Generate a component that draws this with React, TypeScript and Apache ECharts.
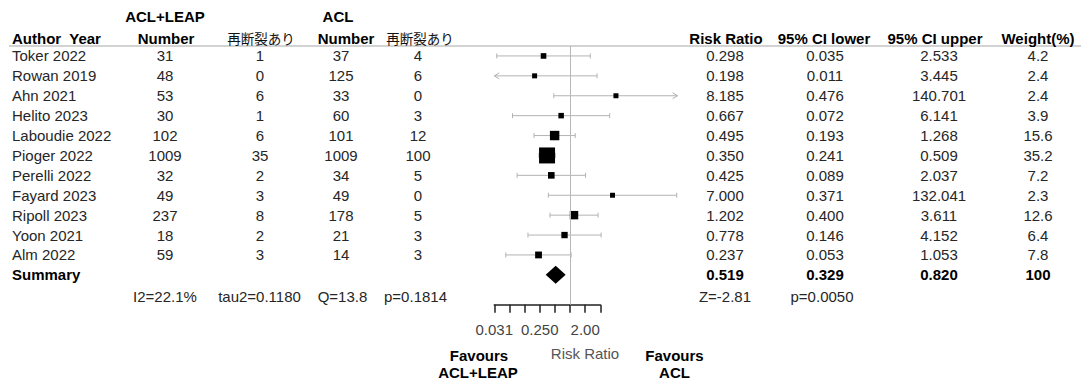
import React, { useEffect, useRef } from "react";
import * as echarts from "echarts";

// ---------- data ----------
const studies = ["Toker 2022", "Rowan 2019", "Ahn 2021", "Helito 2023", "Laboudie 2022", "Pioger 2022", "Perelli 2022", "Fayard 2023", "Ripoll 2023", "Yoon 2021", "Alm 2022"];
const leapN = [31, 48, 53, 30, 102, 1009, 32, 49, 237, 18, 59];
const leapEvents = [1, 0, 6, 1, 6, 35, 2, 3, 8, 2, 3];
const aclN = [37, 125, 33, 60, 101, 1009, 34, 49, 178, 21, 14];
const aclEvents = [4, 6, 0, 3, 12, 100, 5, 0, 5, 3, 3];
const riskRatio = [0.298, 0.198, 8.185, 0.667, 0.495, 0.35, 0.425, 7.0, 1.202, 0.778, 0.237];
const ciLower = [0.035, 0.011, 0.476, 0.072, 0.193, 0.241, 0.089, 0.371, 0.4, 0.146, 0.053];
const ciUpper = [2.533, 3.445, 140.701, 6.141, 1.268, 0.509, 2.037, 132.041, 3.611, 4.152, 1.053];
const weights = [4.2, 2.4, 2.4, 3.9, 15.6, 35.2, 7.2, 2.3, 12.6, 6.4, 7.8];
const summaryLabel = "Summary";
const summaryValues = [0.519, 0.329, 0.82];
const summaryWeight = "100";
const heterogeneity = ["I2=22.1%", "tau2=0.1180", "Q=13.8", "p=0.1814"];
const overallTest = ["Z=-2.81", "p=0.0050"];
const tickLabels: Record<string, string> = { "-5": "0.031", "-2": "0.250", "1": "2.00" };
const leftHeaderTop = ["ACL+LEAP", "ACL"];
const leftHeaders = ["Author  Year", "Number", "再断裂あり", "Number", "再断裂あり"];
const rightHeaders = ["Risk Ratio", "95% CI lower", "95% CI upper", "Weight(%)"];
const axisTitle = "Risk Ratio";
const favoursLeft = ["Favours", "ACL+LEAP"];
const favoursRight = ["Favours", "ACL"];

// ---------- layout ----------
const FONT = "'Liberation Sans', Arial, 'Noto Sans CJK JP', sans-serif";
const CJK = "'Noto Sans CJK JP', 'Liberation Sans', sans-serif";
const PX_PER_LOG = 15.15;
const PLOT_LEFT = 494.25;
const DMIN = -5;
const DMAX = 7.1;
const AXIS_MAX = 2;
const GRID_TOP = 46;
const ROW_H = 19.9;
const ROW_MIN = -0.5;
const ROW_MAX = 12.5;
const rowY = (i: number) => GRID_TOP + (i - ROW_MIN) * ROW_H;
const leftCols = [165, 260, 341, 418];
const rightCols = [725, 825, 939, 1038];
const TEXT = "#262626";

function txt(text: string, x: number, y: number, opts: any = {}) {
  const align = opts.align || "center";
  return {
    type: "text",
    x,
    y,
    silent: true,
    style: {
      text,
      fill: opts.color || TEXT,
      font: `${opts.bold ? "bold " : ""}${opts.size || 15}px ${opts.family || FONT}`,
      textAlign: align,
      align,
      textVerticalAlign: "middle",
      verticalAlign: "middle",
    },
  };
}

export default function App() {
  const ref = useRef<HTMLDivElement>(null);

  useEffect(() => {
    if (!ref.current) return;
    const chart = echarts.init(ref.current, undefined, { renderer: "svg" });

    const forestData = studies.map((_, i) => [
      Math.log2(riskRatio[i]),
      Math.log2(ciLower[i]),
      Math.log2(ciUpper[i]),
      i,
      weights[i],
    ]);
    const summaryData = [[
      Math.log2(summaryValues[0]),
      Math.log2(summaryValues[1]),
      Math.log2(summaryValues[2]),
      studies.length,
    ]];

    const graphics: any[] = [];
    // header rule
    graphics.push({
      type: "line",
      silent: true,
      shape: { x1: 9, y1: GRID_TOP, x2: 1081, y2: GRID_TOP },
      style: { stroke: "#c4c4c4", lineWidth: 1.5 },
    });
    // left header
    graphics.push(txt(leftHeaderTop[0], 165, 16, { bold: true, color: "#000" }));
    graphics.push(txt(leftHeaderTop[1], 338, 16, { bold: true, color: "#000" }));
    graphics.push(txt(leftHeaders[0], 12, 38, { bold: true, color: "#000", align: "left" }));
    graphics.push(txt(leftHeaders[1], 166, 38, { bold: true, color: "#000" }));
    graphics.push(txt(leftHeaders[2], 261, 38, { size: 13.5, family: CJK, color: "#111" }));
    graphics.push(txt(leftHeaders[3], 346, 38, { bold: true, color: "#000" }));
    graphics.push(txt(leftHeaders[4], 420, 38, { size: 13.5, family: CJK, color: "#111" }));
    rightHeaders.forEach((h, k) => {
      const cx = [726, 824, 935, 1038][k];
      graphics.push(txt(h, cx, 38, { bold: true, color: "#000" }));
    });
    // rows
    studies.forEach((s, i) => {
      const y = rowY(i);
      graphics.push(txt(s, 12, y, { align: "left" }));
      graphics.push(txt(String(leapN[i]), leftCols[0], y));
      graphics.push(txt(String(leapEvents[i]), leftCols[1], y));
      graphics.push(txt(String(aclN[i]), leftCols[2], y));
      graphics.push(txt(String(aclEvents[i]), leftCols[3], y));
      graphics.push(txt(riskRatio[i].toFixed(3), rightCols[0], y));
      graphics.push(txt(ciLower[i].toFixed(3), rightCols[1], y));
      graphics.push(txt(ciUpper[i].toFixed(3), rightCols[2], y));
      graphics.push(txt(weights[i].toFixed(1), rightCols[3], y));
    });
    // summary row
    const ys = rowY(studies.length);
    graphics.push(txt(summaryLabel, 12, ys, { bold: true, color: "#000", align: "left" }));
    summaryValues.forEach((v, k) => {
      graphics.push(txt(v.toFixed(3), rightCols[k], ys, { bold: true, color: "#000" }));
    });
    graphics.push(txt(summaryWeight, rightCols[3], ys, { bold: true, color: "#000" }));
    // heterogeneity row
    const yh = rowY(studies.length + 1) + 2;
    heterogeneity.forEach((h, k) => {
      graphics.push(txt(h, [165, 259.5, 342.5, 415.5][k], yh));
    });
    graphics.push(txt(overallTest[0], 725, yh));
    graphics.push(txt(overallTest[1], 822, yh));
    // bottom captions
    graphics.push(txt(axisTitle, 585, 353, { color: "#555" }));
    graphics.push(txt(favoursLeft[0], 479, 355, { bold: true, color: "#000" }));
    graphics.push(txt(favoursLeft[1], 478, 372, { bold: true, color: "#000" }));
    graphics.push(txt(favoursRight[0], 674.5, 355, { bold: true, color: "#000" }));
    graphics.push(txt(favoursRight[1], 674.5, 372, { bold: true, color: "#000" }));

    const gridHeight = (ROW_MAX - ROW_MIN) * ROW_H;

    const option: any = {
      animation: false,
      backgroundColor: "#ffffff",
      grid: [
        { left: PLOT_LEFT, top: GRID_TOP, width: (DMAX - DMIN) * PX_PER_LOG, height: gridHeight, containLabel: false },
        { left: PLOT_LEFT, top: GRID_TOP, width: (AXIS_MAX - DMIN) * PX_PER_LOG, height: gridHeight, containLabel: false },
      ],
      xAxis: [
        { gridIndex: 0, type: "value", min: DMIN, max: DMAX, show: false },
        {
          gridIndex: 1,
          type: "value",
          min: DMIN,
          max: AXIS_MAX,
          interval: 1,
          position: "bottom",
          axisLine: { show: true, onZero: false, lineStyle: { color: "#222", width: 1.5 } },
          axisTick: { show: true, length: 8, lineStyle: { color: "#222", width: 1.5 } },
          splitLine: { show: false },
          axisLabel: {
            margin: 17,
            color: "#444",
            fontSize: 15,
            fontFamily: FONT,
            formatter: (v: number) => tickLabels[String(Math.round(v))] || "",
          },
        },
      ],
      yAxis: [
        { gridIndex: 0, type: "value", min: ROW_MIN, max: ROW_MAX, inverse: true, show: false },
        { gridIndex: 1, type: "value", min: ROW_MIN, max: ROW_MAX, inverse: true, show: false },
      ],
      series: [
        {
          type: "custom",
          xAxisIndex: 0,
          yAxisIndex: 0,
          encode: { x: [0, 1, 2], y: 3 },
          data: forestData,
          silent: true,
          renderItem: (params: any, api: any) => {
            const c = api.value(0);
            const lo = api.value(1);
            const hi = api.value(2);
            const row = api.value(3);
            const w = api.value(4);
            const loC = Math.max(lo, DMIN);
            const hiC = Math.min(hi, DMAX);
            const pL = api.coord([loC, row]);
            const pR = api.coord([hiC, row]);
            const pC = api.coord([c, row]);
            const y = pC[1];
            const stroke = { stroke: "#b3b3b3", lineWidth: 1 };
            const children: any[] = [
              { type: "line", shape: { x1: pL[0], y1: y, x2: pR[0], y2: y }, style: stroke },
            ];
            if (lo < DMIN) {
              children.push({ type: "polyline", shape: { points: [[pL[0] + 5, y - 3], [pL[0], y], [pL[0] + 5, y + 3]] }, style: { ...stroke, fill: "none" } });
            } else {
              children.push({ type: "line", shape: { x1: pL[0], y1: y - 2.5, x2: pL[0], y2: y + 2.5 }, style: stroke });
            }
            if (hi > DMAX) {
              children.push({ type: "polyline", shape: { points: [[pR[0] - 5, y - 3], [pR[0], y], [pR[0] - 5, y + 3]] }, style: { ...stroke, fill: "none" } });
            } else {
              children.push({ type: "line", shape: { x1: pR[0], y1: y - 2.5, x2: pR[0], y2: y + 2.5 }, style: stroke });
            }
            const side = 4.2 + 0.335 * w;
            children.push({
              type: "rect",
              shape: { x: pC[0] - side / 2, y: y - side / 2, width: side, height: side },
              style: { fill: "#000" },
            });
            return { type: "group", children };
          },
          markLine: {
            silent: true,
            symbol: "none",
            label: { show: false },
            lineStyle: { color: "#b8b8b8", width: 1, type: "solid" },
            data: [{ xAxis: 0 }],
          },
        },
        {
          type: "custom",
          xAxisIndex: 0,
          yAxisIndex: 0,
          encode: { x: [0, 1, 2], y: 3 },
          data: summaryData,
          silent: true,
          renderItem: (params: any, api: any) => {
            const row = api.value(3);
            const pC = api.coord([api.value(0), row]);
            const pL = api.coord([api.value(1), row]);
            const pR = api.coord([api.value(2), row]);
            const y = pC[1];
            return {
              type: "polygon",
              shape: { points: [[pL[0], y], [pC[0], y - 9], [pR[0], y], [pC[0], y + 9]] },
              style: { fill: "#000" },
            };
          },
        },
      ],
      graphic: graphics,
    };

    chart.setOption(option);
    return () => chart.dispose();
  }, []);

  return (
    <div
      ref={ref}
      style={{ position: "fixed", left: 0, top: 0, width: 1086, height: 383, background: "#fff" }}
    />
  );
}
